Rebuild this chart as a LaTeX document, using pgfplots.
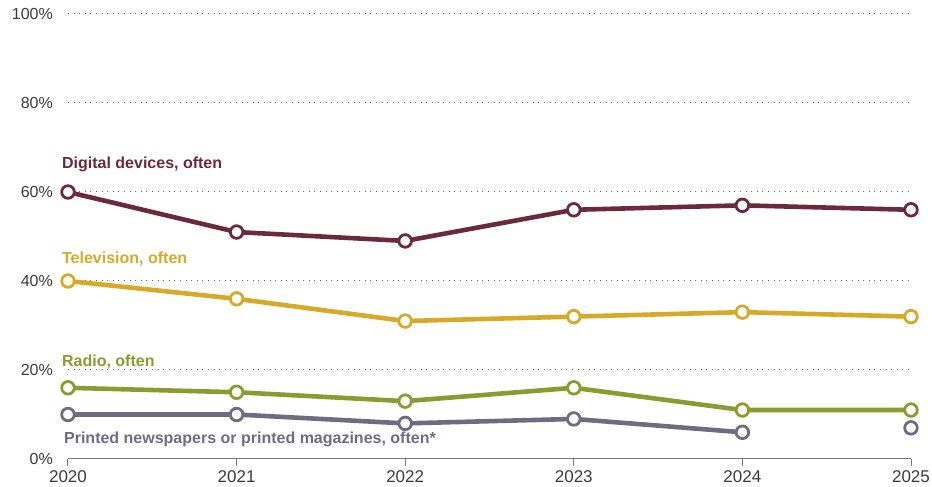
\documentclass[border=0pt]{standalone}
\usepackage{pgfplots}
\pgfplotsset{compat=1.18}
\usepackage{fontspec}
\setmainfont{Liberation Sans}
\definecolor{digital}{HTML}{6B2A3C}
\definecolor{tv}{HTML}{D6A928}
\definecolor{radio}{HTML}{8B9B2F}
\definecolor{printc}{HTML}{6F6B82}
\definecolor{axisc}{HTML}{777777}
\definecolor{textc}{HTML}{3A3A3A}
\begin{document}
\begin{tikzpicture}[x=1pt,y=1pt]
\useasboundingbox (0,0) rectangle (932,487);
\begin{axis}[
  at={(68pt,28pt)}, anchor=south west,
  scale only axis, width=843pt, height=445pt,
  xmin=2020, xmax=2025, ymin=0, ymax=100,
  clip=false,
  axis x line*=bottom, axis y line*=left,
  y axis line style={draw=none},
  x axis line style={axisc, line width=1pt},
  xtick={2020,2021,2022,2023,2024,2025},
  ytick={0,20,40,60,80,100},
  xtick align=outside,
  major tick length=7pt,
  xtick style={axisc, line width=1pt},
  ytick style={draw=none},
  ymajorgrids,
  grid style={black!60, line width=1pt, dash pattern=on 1pt off 4.6pt},
  /pgf/number format/assume math mode=true,
  xticklabel style={/pgf/number format/1000 sep={}, font=\fontsize{17}{19}\selectfont, text=textc, inner sep=0pt, yshift=-4pt},
  yticklabel={\pgfmathprintnumber{\tick}\%},
  yticklabel style={font=\fontsize{16}{18}\selectfont, text=textc, inner sep=0pt, xshift=-15pt},
  every axis plot/.append style={line width=4.6pt, mark=*, mark size=6.3pt,
     mark options={fill=white, line width=2.8pt}},
]
\addplot[digital] coordinates {(2020,60) (2021,51) (2022,49) (2023,56) (2024,57) (2025,56)};
\addplot[tv] coordinates {(2020,40) (2021,36) (2022,31) (2023,32) (2024,33) (2025,32)};
\addplot[radio] coordinates {(2020,16) (2021,15) (2022,13) (2023,16) (2024,11) (2025,11)};
\addplot[printc] coordinates {(2020,10) (2021,10) (2022,8) (2023,9) (2024,6)};
\addplot[printc, only marks] coordinates {(2025,7)};

\node[anchor=west, text=digital, font=\bfseries\fontsize{16}{18}\selectfont, inner sep=0pt] at (axis cs:2019.964,66.1) {Digital devices, often};
\node[anchor=west, text=tv, font=\bfseries\fontsize{16}{18}\selectfont, inner sep=0pt] at (axis cs:2019.964,44.9) {Television, often};
\node[anchor=west, text=radio, font=\bfseries\fontsize{16}{18}\selectfont, inner sep=0pt] at (axis cs:2019.964,21.8) {Radio, often};
\node[anchor=west, text=printc, font=\bfseries\fontsize{16}{18}\selectfont, inner sep=0pt] at (axis cs:2019.976,4.3) {Printed newspapers or printed magazines, often*};
\end{axis}
\end{tikzpicture}
\end{document}
